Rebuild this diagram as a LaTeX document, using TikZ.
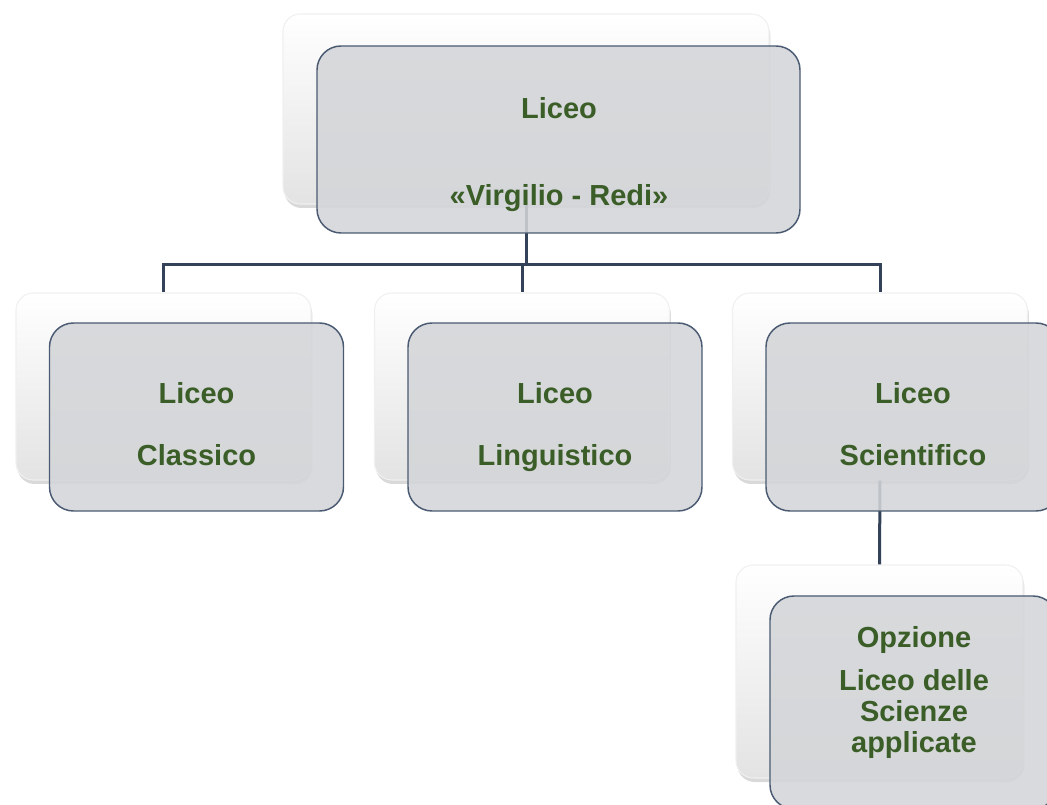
\documentclass[tikz,border=0pt]{standalone}
\usepackage{fontspec}
\setmainfont{Liberation Sans}
\usepackage{tikz}
\usetikzlibrary{positioning,shadows,calc}

\definecolor{lineblue}{HTML}{334258}
\definecolor{frameblue}{HTML}{4A5A72}
\definecolor{boxgray}{HTML}{D3D5D8}
\definecolor{textgreen}{HTML}{3B5E28}

\tikzset{
	backbox/.style={rounded corners=13pt, draw=black!6, line width=0.8pt, top color=white, middle color=white, bottom color=black!11,
		drop shadow={shadow xshift=1pt, shadow yshift=-3pt, opacity=0.3}},
	frontbox/.style={rounded corners=18pt, draw=frameblue, line width=1.1pt, fill=boxgray, fill opacity=0.88},
	label/.style={align=center, text=textgreen, text depth=5pt, font=\fontsize{21.75pt}{23.25pt}\selectfont\bfseries},
	link/.style={draw=lineblue, line width=2.25pt}
}

\begin{document}
\begin{tikzpicture}[x=0.75pt, y=-0.75pt]
		
		\useasboundingbox (0,0) rectangle (1047,805);
		
		% back boxes
		\node [backbox, minimum width=364.5pt, minimum height=142.5pt] (back-0) at (526,109) {};
		
		\foreach \n/\cx in {1/163.5, 2/522, 3/880}
		\node [backbox, minimum width=221.25pt, minimum height=140.25pt] (back-\n) at (\cx,386.5) {};
		
		\node [backbox, minimum width=215.25pt, minimum height=159.75pt] (back-4) at (879.5,671.5) {};
		
		% connectors
		\coordinate (bus) at (526,265);
		\draw [link] (back-0.south) -- (bus);
		\foreach \n in {1,2,3}
		\draw [link] (bus) -| (back-\n.north);
		\draw [link] (back-3.south) -- (back-4.north);
		
		% front boxes
		\node [frontbox, minimum width=362.25pt, minimum height=140.25pt] (front-0) at (558.5,139.5) {};
		
		\foreach \n/\cx in {1/196.5, 2/555, 3/913}
		\node [frontbox, minimum width=220.5pt, minimum height=141pt] (front-\n) at (\cx,417) {};
		
		\node [frontbox, minimum width=215.25pt, minimum height=159.75pt] (front-4) at (913.5,702.5) {};
		
		% texts
		\node [label] (label-0) at (559,155) {Liceo\\[42pt]«Virgilio - Redi»};
		\node [label] (label-1) at (196.5,427) {Liceo\\[23.25pt]Classico};
		\node [label] (label-2) at (555,427) {Liceo\\[23.25pt]Linguistico};
		\node [label] (label-3) at (913,427) {Liceo\\[23.25pt]Scientifico};
		\node [label] (label-4) at (914,693) {Opzione\\[9pt]Liceo delle\\Scienze\\applicate};
		
\end{tikzpicture}
\end{document}
